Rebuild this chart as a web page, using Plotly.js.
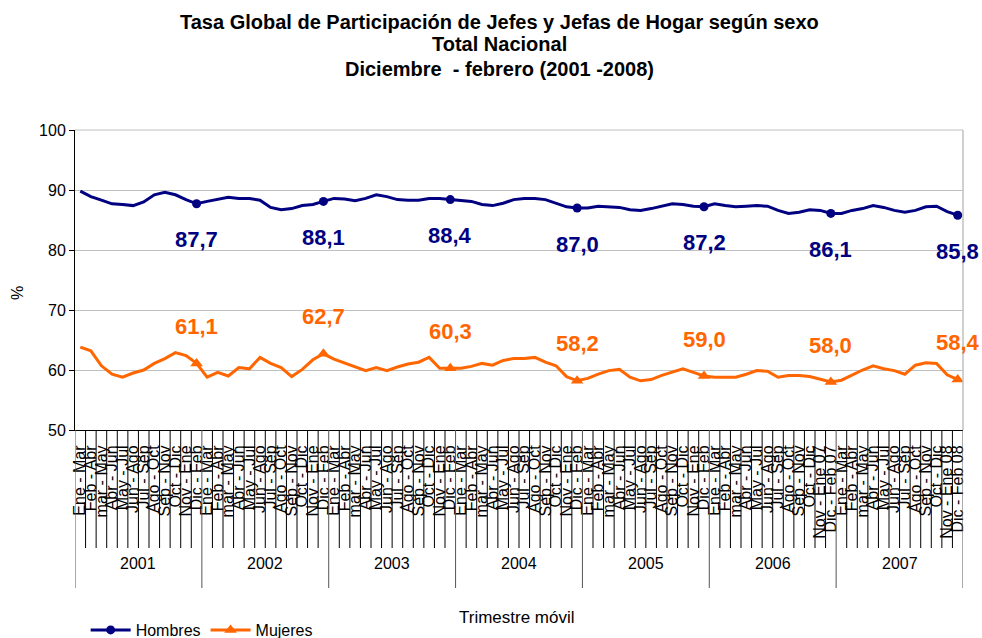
<!DOCTYPE html>
<html>
<head>
<meta charset="utf-8">
<script src="https://cdn.plot.ly/plotly-3.0.1.min.js"></script>
<style>
html,body{margin:0;padding:0;background:#fff;}
#chart{width:982px;height:638px;}
</style>
</head>
<body>
<div id="chart"></div>
<script>
// ---- data ----
const years = ['2001','2002','2003','2004','2005','2006','2007'];
const trimestres = ['Ene - Mar','Feb - Abr','mar - May','Abr - Jun','May - Jul','Jun - Ago',
                    'Jul - Sep','Ago - Oct','Sep - Nov','Oct - Dic','Nov - Ene','Dic - Feb'];
const yearEndSuffix = ['', '', '', '', '', ' 07', ' 08'];

const hombres = [
  89.8, 88.9, 88.3, 87.7, 87.6, 87.4, 88.0, 89.2, 89.6, 89.2, 88.4, 87.7,
  88.1, 88.4, 88.8, 88.6, 88.6, 88.3, 87.1, 86.7, 86.9, 87.4, 87.6, 88.1,
  88.6, 88.5, 88.2, 88.6, 89.2, 88.9, 88.4, 88.3, 88.3, 88.6, 88.6, 88.4,
  88.3, 88.1, 87.6, 87.4, 87.8, 88.4, 88.6, 88.6, 88.4, 87.8, 87.2, 87.0,
  87.0, 87.3, 87.2, 87.1, 86.7, 86.6, 86.9, 87.3, 87.7, 87.6, 87.3, 87.2,
  87.7, 87.4, 87.2, 87.3, 87.4, 87.3, 86.6, 86.1, 86.3, 86.7, 86.6, 86.1,
  86.1, 86.6, 86.9, 87.4, 87.1, 86.6, 86.3, 86.6, 87.2, 87.3, 86.4, 85.8
];
const mujeres = [
  63.8, 63.2, 60.7, 59.3, 58.8, 59.5, 60.0, 61.1, 61.9, 62.9, 62.4, 61.1,
  58.8, 59.6, 59.0, 60.4, 60.2, 62.1, 61.1, 60.4, 58.9, 60.1, 61.7, 62.7,
  61.8, 61.2, 60.6, 59.9, 60.4, 59.9, 60.5, 61.0, 61.3, 62.1, 60.3, 60.3,
  60.3, 60.6, 61.1, 60.8, 61.6, 61.9, 61.9, 62.1, 61.3, 60.7, 58.9, 58.2,
  58.6, 59.3, 59.9, 60.1, 58.8, 58.2, 58.4, 59.1, 59.7, 60.2, 59.6, 59.0,
  58.8, 58.8, 58.8, 59.3, 59.9, 59.8, 58.8, 59.1, 59.1, 58.9, 58.5, 58.0,
  58.3, 59.2, 60.0, 60.7, 60.2, 59.9, 59.3, 60.8, 61.2, 61.1, 59.2, 58.4
];
const titleLines = ['Tasa Global de Participación de Jefes y Jefas de Hogar según sexo',
                    'Total Nacional',
                    'Diciembre  - febrero (2001 -2008)'];

// ---- derived ----
const FONT = 'Arial, "Liberation Sans", sans-serif';
const NAVY = '#000080', ORANGE = '#ff6600';
const PLOT_H = 300; // plot area height in px (for paper offsets)
const py = px => (430 - px) / PLOT_H;   // page y pixel -> paper y

const tickLabels = [];
years.forEach((y, k) => trimestres.forEach((t, j) => {
  tickLabels.push(t + (j >= 10 ? yearEndSuffix[k] : ''));
}));
const xs = tickLabels.map((_, i) => i);
const markIdx = xs.filter(i => i % 12 === 11);
const fmt = v => v.toFixed(1).replace('.', ',');

const traces = [
  {x: xs, y: hombres, mode: 'lines', line: {color: NAVY, width: 3}, showlegend: false, hoverinfo: 'skip'},
  {x: xs, y: mujeres, mode: 'lines', line: {color: ORANGE, width: 3}, showlegend: false, hoverinfo: 'skip'},
  {x: markIdx, y: markIdx.map(i => hombres[i]), mode: 'markers',
   marker: {color: NAVY, size: 9, symbol: 'circle'}, showlegend: false},
  {x: markIdx, y: markIdx.map(i => mujeres[i]), mode: 'markers',
   marker: {color: ORANGE, size: 11, symbol: 'triangle-up'}, showlegend: false},
  {x: [null], y: [null], name: 'Hombres', mode: 'lines+markers',
   line: {color: NAVY, width: 3}, marker: {color: NAVY, size: 9, symbol: 'circle'}},
  {x: [null], y: [null], name: 'Mujeres', mode: 'lines+markers',
   line: {color: ORANGE, width: 3}, marker: {color: ORANGE, size: 11, symbol: 'triangle-up'}}
];

const annotations = [];
markIdx.forEach(i => {
  annotations.push({x: i, y: hombres[i], xref: 'x', yref: 'y', text: fmt(hombres[i]),
    showarrow: false, yshift: -36, font: {family: FONT, size: 22, color: NAVY, weight: 'bold'}});
  annotations.push({x: i, y: mujeres[i], xref: 'x', yref: 'y', text: fmt(mujeres[i]),
    showarrow: false, yshift: 37, font: {family: FONT, size: 22, color: ORANGE, weight: 'bold'}});
});
years.forEach((y, k) => {
  annotations.push({x: k * 12 + 5.5, y: py(574), xref: 'x', yref: 'paper', text: y,
    showarrow: false, font: {family: FONT, size: 16, color: '#000'}});
});
annotations.push({x: 0.498, y: py(617), xref: 'paper', yref: 'paper', xanchor: 'center', yanchor: 'middle',
  text: 'Trimestre móvil', showarrow: false, font: {family: FONT, size: 17, color: '#000'}});
annotations.push({x: (17 - 75) / 888, y: py(293), xref: 'paper', yref: 'paper', xanchor: 'center', yanchor: 'middle',
  text: '%', textangle: -90, showarrow: false, font: {family: FONT, size: 16, color: '#000'}});
[22, 44, 69].forEach((ypx, k) => {
  annotations.push({x: 0.4775, y: py(ypx), xref: 'paper', yref: 'paper', xanchor: 'center', yanchor: 'middle',
    text: titleLines[k], showarrow: false, font: {family: FONT, size: 20, color: '#000', weight: 'bold'}});
});

const shapes = [];
for (let j = 0; j <= xs.length; j++) {
  const isYear = j % 12 === 0;
  shapes.push({type: 'line', xref: 'x', yref: 'paper', x0: j - 0.5, x1: j - 0.5,
    y0: 0, y1: isYear ? py(588) : py(548),
    line: {color: isYear ? '#555' : '#000', width: 1}});
}
shapes.push({type: 'line', xref: 'paper', yref: 'paper', x0: 1, x1: 1, y0: 0, y1: 1,
  line: {color: '#c0c0c0', width: 1.5}});
shapes.push({type: 'line', xref: 'paper', yref: 'paper', x0: 0, x1: 1, y0: 1, y1: 1,
  line: {color: '#c0c0c0', width: 1}});

const layout = {
  width: 982, height: 638,
  margin: {l: 75, r: 19, t: 130, b: 208, autoexpand: false},
  paper_bgcolor: '#fff', plot_bgcolor: '#fff',
  font: {family: FONT, color: '#000'},
  xaxis: {
    range: [-0.5, xs.length - 0.5], tickmode: 'array', tickvals: xs, ticktext: tickLabels,
    tickangle: -90, ticks: 'outside', ticklen: 8, tickcolor: 'rgba(0,0,0,0)',
    showgrid: false, zeroline: false, automargin: false,
    showline: true, linecolor: '#000', linewidth: 1,
    tickfont: {family: FONT, size: 16, color: '#000'}, fixedrange: true
  },
  yaxis: {
    range: [50, 100], dtick: 10, tick0: 50, showgrid: true, gridcolor: '#c0c0c0', gridwidth: 1,
    zeroline: false, showline: true, linecolor: '#000', linewidth: 1, automargin: false,
    ticks: 'outside', ticklen: 5, tickcolor: '#000',
    tickfont: {family: FONT, size: 16, color: '#000'}
  },
  legend: {orientation: 'h', x: 0.012, xanchor: 'left', y: py(630), yanchor: 'middle',
    font: {family: FONT, size: 16, color: '#000'}, bgcolor: 'rgba(0,0,0,0)', itemwidth: 40},
  showlegend: true,
  annotations: annotations,
  shapes: shapes
};

Plotly.newPlot('chart', traces, layout, {staticPlot: true});
</script>
</body>
</html>
